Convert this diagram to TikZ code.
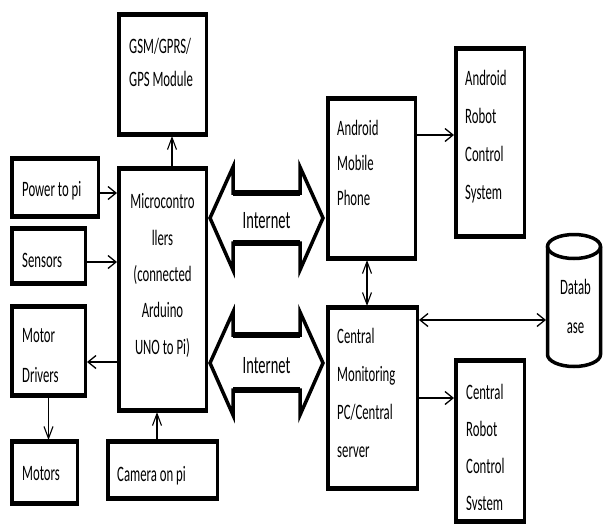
\documentclass[tikz,border=0pt]{standalone}
\usepackage{fontspec}
\setmainfont[FakeStretch=0.58]{Carlito}
\usetikzlibrary{arrows.meta,calc}
\begin{document}
\begin{tikzpicture}[x=1pt,y=-1pt,
  box/.style={draw,line width=3.5pt,inner sep=0pt},
  txt/.style={inner sep=0pt,align=left,anchor=north west},
  hhead/.style={-{Straight Barb[length=8pt,width=13pt,line width=1.3pt]}},
  vhead/.style={-{Straight Barb[length=12pt,width=9pt,line width=1.1pt]}},
  hconn/.style={line width=1.5pt,hhead},
  vconn/.style={line width=1.1pt,vhead},
  bvconn/.style={line width=1.1pt,{Straight Barb[length=12pt,width=9pt,line width=1.1pt]}-{Straight Barb[length=12pt,width=9pt,line width=1.1pt]}},
  bhconn/.style={line width=1.5pt,{Straight Barb[length=8pt,width=13pt,line width=1.3pt]}-{Straight Barb[length=8pt,width=13pt,line width=1.3pt]}},
  bigarrow/.style={line width=3.5pt,line join=miter},
]
\useasboundingbox (0,0) rectangle (603,523);

% boxes
\node[box,minimum width=87.5pt,minimum height=119.5pt] (gsm) at (162.5,74.5) {};
\node[box,minimum width=87.5pt,minimum height=241.5pt] (micro) at (162.5,289.5) {};
\node[box,minimum width=86.5pt,minimum height=57.5pt] (power) at (55,187.5) {};
\node[box,minimum width=73.5pt,minimum height=54.5pt] (sensors) at (48.5,256) {};
\node[box,minimum width=73.5pt,minimum height=88.5pt] (md) at (48.5,351) {};
\node[box,minimum width=65.5pt,minimum height=61.5pt] (motors) at (44.5,472.5) {};
\node[box,minimum width=109.5pt,minimum height=56.5pt] (camera) at (162.5,470) {};
\node[box,minimum width=87.5pt,minimum height=159.5pt] (phone) at (371.5,178.5) {};
\node[box,minimum width=68.5pt,minimum height=187.5pt] (arobot) at (490,142.5) {};
\node[box,minimum width=89.5pt,minimum height=180.5pt] (central) at (372.5,398) {};
\node[box,minimum width=68.5pt,minimum height=160.5pt] (crobot) at (490,441) {};

\foreach \n in {gsm,micro,power,sensors,md,motors,camera,phone,arobot,central,crobot}{
  \draw[line width=5pt] ([yshift=-1.75pt]\n.north west) -- ([yshift=-1.75pt]\n.north east);
  \draw[line width=5pt] ([yshift=1.75pt]\n.south west) -- ([yshift=1.75pt]\n.south east);
}

% database
\node[inner sep=0pt,outer sep=0pt,minimum width=56pt,minimum height=135pt] (db) at (574,300.5) {};
\draw[line width=3.5pt] (574,246.5) ellipse [x radius=26.5pt, y radius=12pt];
\draw[line width=3.5pt] (547.5,246.5) -- (547.5,354.5) arc[start angle=180,end angle=360,x radius=26.5pt,y radius=12pt] -- (600.5,246.5);

% internet arrows
\draw[bigarrow] (210,218) -- (233,167) -- (233,193) -- (300,193) -- (300,167) -- (323,218) -- (300,270) -- (300,243) -- (233,243) -- (233,270) -- cycle;
\draw[line width=5.5pt] (233,193) -- (300,193) (233,243) -- (300,243);
\draw[bigarrow] (210,363) -- (233,312) -- (233,335) -- (300,335) -- (300,312) -- (323,363) -- (300,415) -- (300,390) -- (233,390) -- (233,415) -- cycle;
\draw[line width=5.5pt] (233,335) -- (300,335) (233,390) -- (300,390);
\node[inner sep=0pt,font=\fontsize{25}{30}\selectfont] (inet1) at (266.5,221) {Internet};
\node[inner sep=0pt,font=\fontsize{25}{30}\selectfont] (inet2) at (266.5,366) {Internet};

% texts
\node[txt,font=\fontsize{22}{33}\selectfont] (t-gsm) at (129,38.5) {GSM/GPRS/\\GPS Module};
\node[txt,anchor=north,align=center,font=\fontsize{22}{36.3}\selectfont] (t-micro) at (162.5,193.5) {Microcontro\\llers\\(connected\\Arduino\\UNO to Pi)};
\node[txt,font=\fontsize{22}{36}\selectfont] (t-power) at (22,181.5) {Power to pi};
\node[txt,font=\fontsize{22}{36}\selectfont] (t-sensors) at (22,253.5) {Sensors};
\node[txt,font=\fontsize{22}{40}\selectfont] (t-md) at (22,328.5) {Motor\\Drivers};
\node[txt,font=\fontsize{22}{36}\selectfont] (t-motors) at (22,466.5) {Motors};
\node[txt,font=\fontsize{22}{36}\selectfont] (t-camera) at (117,466.5) {Camera on pi};
\node[txt,font=\fontsize{22}{35}\selectfont] (t-phone) at (337,120.5) {Android\\Mobile\\Phone};
\node[txt,font=\fontsize{22}{38}\selectfont] (t-arobot) at (465,70.5) {Android\\Robot\\Control\\System};
\node[txt,font=\fontsize{22}{38}\selectfont] (t-central) at (337,328.5) {Central\\Monitoring\\PC/Central\\server};
\begin{scope}
  \clip (456,362) rectangle (524,509.5);
  \node[txt,font=\fontsize{22}{36.7}\selectfont] (t-crobot) at (466,384.5) {Central\\Robot\\Control\\System};
\end{scope}
\node[txt,anchor=north,align=center,font=\fontsize{22}{39}\selectfont] (t-db) at (575.5,279.5) {Datab\\ase};

% connectors
\coordinate (g1) at ([xshift=9.5pt]micro.north);
\draw[vconn] (g1) -- (g1 |- gsm.south);
\coordinate (p1) at ([yshift=-5.5pt]power.east);
\draw[hconn] (p1) -- (p1 -| micro.west);
\coordinate (s1) at ([yshift=-6pt]sensors.east);
\draw[hconn] (s1) -- (s1 -| micro.west);
\coordinate (m1) at ([yshift=-11pt]md.east);
\draw[hconn] (m1 -| micro.west) -- (m1);
\draw[vconn] (md.south) -- (md.south |- motors.north);
\coordinate (c1) at ([xshift=-5.5pt]camera.north);
\draw[vconn] (c1) -- (c1 |- micro.south);
\coordinate (a1) at ([yshift=43.5pt]phone.east);
\draw[hconn] (a1) -- (a1 -| arobot.west);
\coordinate (p2) at ([xshift=-4.5pt]phone.south);
\draw[bvconn] (p2) -- (p2 |- central.north);
\coordinate (d1) at ([yshift=78pt]central.east);
\draw[bhconn] (d1) -- (d1 -| db.west);
\draw[hconn] (central.east) -- (central.east -| crobot.west);
\end{tikzpicture}
\end{document}
